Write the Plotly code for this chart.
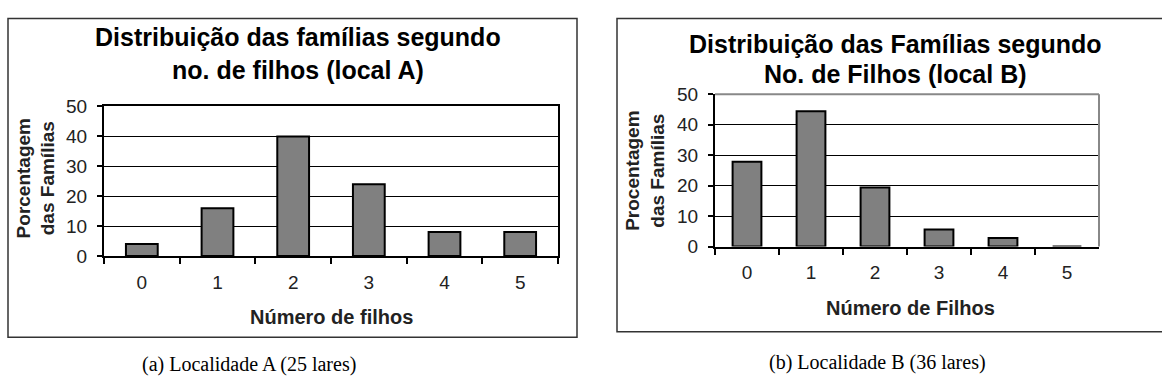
import plotly.graph_objects as go

W, H = 1162, 389

categorias = ["0", "1", "2", "3", "4", "5"]
pct_local_a = [4, 16, 40, 24, 8, 8]
pct_local_b = [27.8, 44.4, 19.4, 5.6, 2.8, 0]
y_ticks = [0, 10, 20, 30, 40, 50]

titulo_a = ["Distribuição das famílias segundo", "no. de filhos (local A)"]
titulo_b = ["Distribuição das Famílias segundo", "No. de Filhos (local B)"]
ytitulo_a = "Porcentagem<br>das Famílias"
ytitulo_b = "Procentagem<br>das Famílias"
xtitulo_a = "Número de filhos"
xtitulo_b = "Número de Filhos"
legenda_a = "(a) Localidade A (25 lares)"
legenda_b = "(b) Localidade B (36 lares)"


def px(x):
    return x / W


def py(y):
    return 1 - y / H


SANS = "Liberation Sans, Arial, sans-serif"
SERIF = "Liberation Serif, Times New Roman, serif"

fig = go.Figure()
fig.add_trace(go.Bar(x=categorias, y=pct_local_a, width=0.42,
                     marker=dict(color="#808080", line=dict(color="black", width=2)),
                     xaxis="x", yaxis="y", showlegend=False))
fig.add_trace(go.Bar(x=categorias, y=pct_local_b, width=0.45,
                     marker=dict(color="#808080", line=dict(color="black", width=2)),
                     xaxis="x2", yaxis="y2", showlegend=False))

tickfont = dict(family=SANS, size=19, color="#222")

common_x = dict(type="category", tickson="boundaries", ticks="outside", ticklen=6,
                tickcolor="black", tickwidth=1.5, showline=True, linecolor="black",
                linewidth=2, showgrid=False, tickfont=tickfont, ticklabelstandoff=8,
                fixedrange=True)
common_y = dict(range=[0, 50], tickvals=y_ticks, ticks="outside", ticklen=5,
                tickcolor="black", tickwidth=1.5, showline=True, linecolor="black",
                linewidth=2, showgrid=True, gridcolor="black", gridwidth=1,
                zeroline=False, tickfont=tickfont, ticklabelstandoff=6, fixedrange=True)

fig.update_layout(
    width=W, height=H, margin=dict(l=0, r=0, t=0, b=0),
    paper_bgcolor="white", plot_bgcolor="white",
    xaxis=dict(common_x, domain=[px(104), px(558)], anchor="y", mirror=True),
    yaxis=dict(common_y, domain=[py(260), py(102)], anchor="x", mirror=True),
    xaxis2=dict(common_x, domain=[px(715), px(1099)], anchor="y2"),
    yaxis2=dict(common_y, domain=[py(250), py(89)], anchor="x2"),
    bargap=0.5,
)

shapes = [
    dict(type="rect", xref="paper", yref="paper", x0=px(8), x1=px(577), y0=py(346), y1=py(9),
         line=dict(color="#333", width=1.5)),
    dict(type="rect", xref="paper", yref="paper", x0=px(617), x1=px(1175), y0=py(340), y1=py(9),
         line=dict(color="#333", width=1.5)),
    dict(type="line", xref="x2 domain", yref="y2 domain", x0=0, x1=1, y0=1, y1=1,
         line=dict(color="#888", width=2), layer="above"),
    dict(type="line", xref="x2 domain", yref="y2 domain", x0=1, x1=1, y0=0, y1=1,
         line=dict(color="#888", width=2), layer="above"),
]
fig.update_layout(shapes=shapes)

ann = []
bold = dict(family=SANS, size=25, color="black")
for txt, y in zip(titulo_a, [29, 63]):
    ann.append(dict(text=f"<b>{txt}</b>", x=px(298), y=py(y), xref="paper", yref="paper",
                    showarrow=False, font=bold, xanchor="center", yanchor="middle"))
for txt, y in zip(titulo_b, [36, 68]):
    ann.append(dict(text=f"<b>{txt}</b>", x=px(895), y=py(y), xref="paper", yref="paper",
                    showarrow=False, font=bold, xanchor="center", yanchor="middle"))

ytf = dict(family=SANS, size=19, color="#222")
ann.append(dict(text=f"<b>{ytitulo_a}</b>", x=px(36), y=py(178), xref="paper", yref="paper",
                showarrow=False, font=ytf, textangle=-90, xanchor="center", yanchor="middle"))
ann.append(dict(text=f"<b>{ytitulo_b}</b>", x=px(645), y=py(170), xref="paper", yref="paper",
                showarrow=False, font=ytf, textangle=-90, xanchor="center", yanchor="middle"))

xtf = dict(family=SANS, size=20, color="#222")
ann.append(dict(text=f"<b>{xtitulo_a}</b>", x=px(331), y=py(325), xref="paper", yref="paper",
                showarrow=False, font=xtf, xanchor="center", yanchor="middle"))
ann.append(dict(text=f"<b>{xtitulo_b}</b>", x=px(910), y=py(315), xref="paper", yref="paper",
                showarrow=False, font=xtf, xanchor="center", yanchor="middle"))

capf = dict(family=SERIF, size=20, color="black")
ann.append(dict(text=legenda_a, x=px(249), y=py(375), xref="paper", yref="paper",
                showarrow=False, font=capf, xanchor="center", yanchor="middle"))
ann.append(dict(text=legenda_b, x=px(877), y=py(373), xref="paper", yref="paper",
                showarrow=False, font=capf, xanchor="center", yanchor="middle"))

fig.update_layout(annotations=ann)
fig.write_html("out.html", config={"displayModeBar": False},
               post_script="document.body.style.margin='0';")
